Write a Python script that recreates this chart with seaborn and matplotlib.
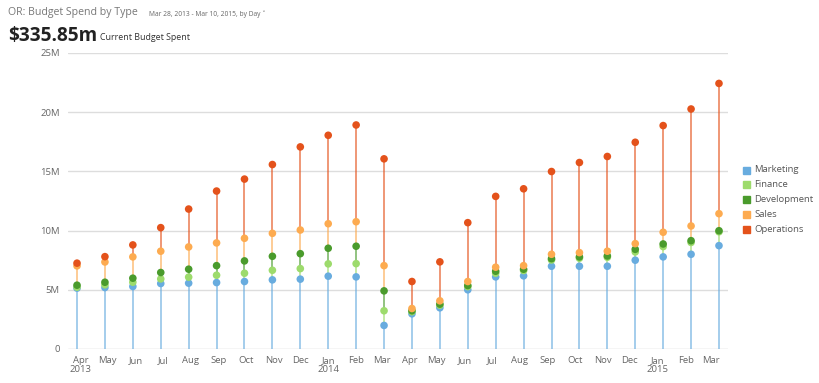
import numpy as np
import pandas as pd
import matplotlib
matplotlib.use('Agg')
import matplotlib.pyplot as plt
import seaborn as sns

# stacked levels (millions), one point per period
MONTHS = ['Apr', 'May', 'Jun', 'Jul', 'Aug', 'Sep', 'Oct', 'Nov', 'Dec', 'Jan', 'Feb', 'Mar',
          'Apr', 'May', 'Jun', 'Jul', 'Aug', 'Sep', 'Oct', 'Nov', 'Dec', 'Jan', 'Feb', 'Mar']
MARKETING = [5.14, 5.19, 5.28, 5.53, 5.56, 5.61, 5.70, 5.84, 5.90, 6.15, 6.09, 1.99,
             2.97, 3.48, 5.00, 6.09, 6.18, 6.99, 6.99, 6.99, 7.50, 7.78, 8.00, 8.73]
FINANCE = [5.22, 5.42, 5.64, 5.92, 6.07, 6.23, 6.40, 6.65, 6.79, 7.19, 7.21, 3.23,
           3.15, 3.70, 5.27, 6.40, 6.63, 7.52, 7.67, 7.75, 8.20, 8.65, 9.00, 9.90]
DEVELOPMENT = [5.39, 5.64, 5.98, 6.46, 6.74, 7.04, 7.44, 7.83, 8.05, 8.51, 8.68, 4.91,
               3.23, 3.79, 5.36, 6.57, 6.74, 7.63, 7.78, 7.86, 8.42, 8.87, 9.15, 9.99]
SALES = [7.02, 7.35, 7.78, 8.26, 8.62, 8.96, 9.35, 9.77, 10.05, 10.58, 10.75, 7.04,
         3.42, 4.07, 5.70, 6.91, 7.04, 8.00, 8.14, 8.26, 8.90, 9.86, 10.39, 11.43]
OPERATIONS = [7.25, 7.80, 8.79, 10.25, 11.82, 13.34, 14.35, 15.58, 17.07, 18.05, 18.92, 16.06,
              5.70, 7.36, 10.67, 12.89, 13.53, 14.99, 15.75, 16.26, 17.46, 18.87, 20.27, 22.43]
SERIES = ['Marketing', 'Finance', 'Development', 'Sales', 'Operations']
Y_TICKS = [0, 5, 10, 15, 20, 25]
Y_LABELS = ['0', '5M', '10M', '15M', '20M', '25M']

COLORS = {'Marketing': '#68acdf', 'Finance': '#9ddb6c', 'Development': '#4a9b2c',
          'Sales': '#fdab50', 'Operations': '#e4521b'}
GRID = '#dddddd'
TEXT = '#666666'
FS_TICK = 6.8

sns.set_style('white')
plt.rcParams['font.family'] = ['Open Sans', 'DejaVu Sans']

dates = pd.date_range('2013-03-28', '2015-03-10', periods=len(MONTHS))
levels = dict(zip(SERIES, [MARKETING, FINANCE, DEVELOPMENT, SALES, OPERATIONS]))
df = pd.DataFrame([{'date': d, 'type': s, 'value': levels[s][i]}
                   for s in SERIES for i, d in enumerate(dates)])

fig = plt.figure(figsize=(8.2, 3.83), dpi=100)
ax = fig.add_axes([68 / 820, 1 - 349 / 383, 660 / 820, 296 / 383])

for y in Y_TICKS[1:]:
    ax.axhline(y, color=GRID, lw=1, zorder=0)
ax.axhline(0, color='#cccccc', lw=1, zorder=0)

# stems: each series segment runs from the level below it
prev = np.zeros(len(dates))
for s in SERIES:
    cur = np.array(levels[s])
    ax.vlines(dates, prev, cur, color=COLORS[s], lw=1.2, alpha=0.7, zorder=1)
    prev = cur

sns.scatterplot(data=df, x='date', y='value', hue='type', hue_order=SERIES,
                palette=COLORS, s=30, edgecolor='none', legend=False, ax=ax, zorder=3)

ax.set_xlim(pd.Timestamp('2013-03-18'), pd.Timestamp('2015-03-20'))
ax.set_ylim(0, 25)
ax.set_yticks(Y_TICKS)
ax.set_yticklabels(Y_LABELS)
ticks = pd.date_range('2013-04-01', '2015-03-01', freq='MS')
tick_labels = []
for i, t in enumerate(ticks):
    lab = t.strftime('%b')
    if i == 0 or t.month == 1:
        lab += '\n' + str(t.year)
    tick_labels.append(lab)
ax.set_xticks(ticks)
ax.set_xticklabels(tick_labels, linespacing=1.05)
ax.tick_params(axis='both', length=0, labelsize=FS_TICK, colors=TEXT)
ax.tick_params(axis='x', pad=5)
ax.tick_params(axis='y', pad=6)
ax.set_xlabel('')
ax.set_ylabel('')
sns.despine(ax=ax, left=True, bottom=True, top=True, right=True)

# legend
for i, s in enumerate(SERIES):
    y = 1 - (170 + i * 14.8) / 383
    fig.patches.append(plt.Rectangle((743 / 820, y - 3.5 / 383), 7 / 820, 7 / 383,
                                     transform=fig.transFigure, color=COLORS[s]))
    fig.text(754 / 820, y, s, fontsize=FS_TICK, color='#555555', va='center', ha='left')

fig.text(8 / 820, 1 - 13 / 383, 'OR: Budget Spend by Type', fontsize=7.6,
         color='#777777', va='center', ha='left')
fig.text(149 / 820, 1 - 14 / 383, 'Mar 28, 2013 - Mar 10, 2015, by Day \u02c5',
         fontsize=4.8, color='#666666', va='center', ha='left')
fig.text(8 / 820, 1 - 36 / 383, '$335.85m', fontsize=13.7, fontweight='bold',
         color='#222222', va='center', ha='left')
fig.text(100 / 820, 1 - 38 / 383, 'Current Budget Spent', fontsize=6.4,
         color='#333333', va='center', ha='left')

fig.savefig('out.png', dpi=100)
